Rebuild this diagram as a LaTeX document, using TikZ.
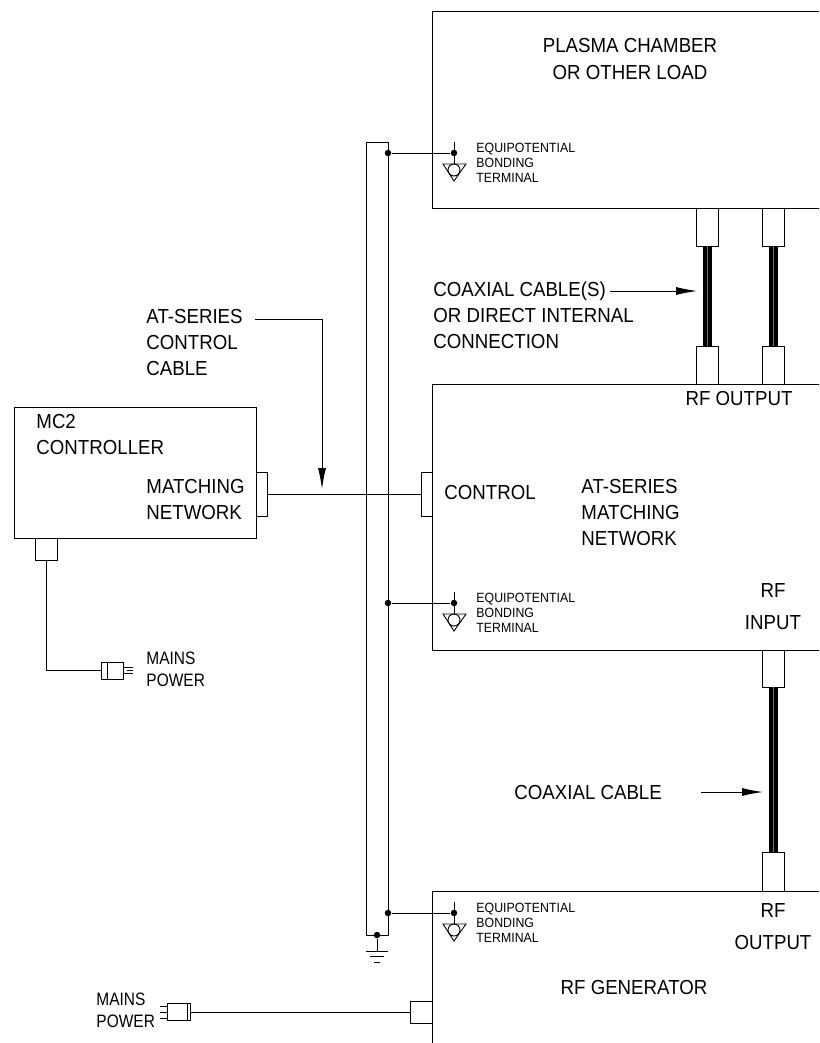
\documentclass[tikz,border=0pt]{standalone}
\usepackage{fontspec}
\setmainfont{Liberation Sans}
\newfontfamily\condfont[FakeStretch=0.92]{Liberation Sans}
\newfontfamily\mainsfont[FakeStretch=0.86]{Liberation Sans}
\usetikzlibrary{arrows.meta,positioning}
\tikzstyle{box} = [rectangle, draw, anchor=north west, inner sep=0pt, outer sep=0pt]
\tikzstyle{port} = [rectangle, draw, inner sep=0pt, outer sep=0pt, minimum width=22pt, minimum height=38pt]
\tikzstyle{sideport} = [rectangle, draw, inner sep=0pt, outer sep=0pt, minimum width=11pt, minimum height=44pt]
\tikzstyle{smallport} = [rectangle, draw, inner sep=0pt, outer sep=0pt, minimum width=22pt, minimum height=22pt]
\tikzstyle{plug} = [rectangle, draw, inner sep=0pt, outer sep=0pt, minimum width=22pt, minimum height=17pt]
\tikzstyle{label} = [inner sep=0pt, align=left, font=\condfont\fontsize{20.3}{26}\selectfont]
\tikzstyle{small} = [inner sep=0pt, align=left, anchor=west, font=\condfont\fontsize{13.4}{15.3}\selectfont]
\tikzstyle{mains} = [inner sep=0pt, align=left, anchor=west, font=\mainsfont\fontsize{18}{22}\selectfont]
\tikzstyle{line} = [draw, line width=0.9pt]
\tikzstyle{prong} = [draw, line width=1.6pt]
\tikzstyle{cable} = [draw, line width=4.45pt, double=black!55, double distance=0.1pt]
\tikzstyle{pointer} = [draw, line width=0.9pt, -{Latex[length=21pt,width=8pt]}]
\tikzstyle{dot} = [circle, fill=black, inner sep=0pt, minimum size=6.5pt]
\tikzset{bondsym/.pic={
    \draw[line width=0.9pt] (0,-11) -- (0,11);
    \draw[line width=0.9pt] (-11,11) -- (12,11) -- (0,28) -- cycle;
    \draw[line width=0.9pt] (0,17) circle (6pt);
  }}
\begin{document}
\begin{tikzpicture}[x=1pt, y=-1pt, line width=0.9pt]
      \useasboundingbox (0,0) rectangle (819,1043);
      \clip (0,0) rectangle (819,1043);
      % Equipment boxes
      \node [box, minimum width=420pt, minimum height=197pt] (chamber) at (432,11) {};
      \node [box, minimum width=420pt, minimum height=266pt] (match) at (432,384) {};
      \node [box, minimum width=420pt, minimum height=200pt] (gen) at (432,891) {};
      \node [box, minimum width=242pt, minimum height=131pt] (mc) at (14,407) {};
      % Bonding bus
      \node [box, minimum width=22pt, minimum height=793pt] (bus) at (366,142) {};
      % Connector shells
      \node [port, anchor=north] (cha) at (707,208) {};
      \node [port, anchor=north] (chb) at (773,208) {};
      \node [port, anchor=south] (maa) at (707,384) {};
      \node [port, anchor=south] (mab) at (773,384) {};
      \node [port, anchor=north, minimum height=37pt] (mrf) at (773,650) {};
      \node [port, anchor=south, minimum height=39pt] (grf) at (773,891) {};
      \node [sideport, anchor=west] (mcside) at (256,494.5) {};
      \node [sideport, anchor=east] (maside) at (432,494.5) {};
      \node [smallport, anchor=north] (mcpow) at (46,538) {};
      \node [smallport, anchor=east] (genpow) at (432,1012) {};
      \node [plug] (plugm) at (112,670.5) {};
      \node [plug, minimum width=23pt] (plugg) at (178.5,1012) {};
      % Bonding terminals
      \node [dot] (busa) at (388,153) {};
      \node [dot] (busb) at (388,603) {};
      \node [dot] (busc) at (388,913) {};
      \node [dot] (busg) at (377,935) {};
      \node [dot] (terma) at (454,153) {};
      \node [dot] (termb) at (454,603) {};
      \node [dot] (termc) at (454,913) {};
      \pic at (terma) {bondsym};
      \pic at (termb) {bondsym};
      \pic at (termc) {bondsym};
      \coordinate (earth) at (377,951);
      \coordinate (ctlfrom) at (255,319);
      \coordinate (ctltip) at (322,489);
      \coordinate (cxafrom) at (610,291);
      \coordinate (cxatip) at (697,291);
      \coordinate (cxbfrom) at (701,792);
      \coordinate (cxbtip) at (763,792);
      % Texts
      \node [label, align=center, font=\condfont\fontsize{20.3}{27.5}\selectfont] (tchamber) at (630,59) {PLASMA CHAMBER\\OR OTHER LOAD};
      \node [small] (lbla) at (476,163) {EQUIPOTENTIAL\\BONDING\\TERMINAL};
      \node [small] (lblb) at (476,613) {EQUIPOTENTIAL\\BONDING\\TERMINAL};
      \node [small] (lblc) at (476,923) {EQUIPOTENTIAL\\BONDING\\TERMINAL};
      \node [label, anchor=west] (tcoaxa) at (433,315) {COAXIAL CABLE(S)\\OR DIRECT INTERNAL\\CONNECTION};
      \node [label, anchor=west] (tctl) at (146,343) {AT-SERIES\\CONTROL\\CABLE};
      \node [label, anchor=west] (tmc) at (36,434.5) {MC2\\CONTROLLER};
      \node [label, anchor=west] (tmatch) at (146,500) {MATCHING\\NETWORK};
      \node [label, anchor=west] (tcontrol) at (444,493) {CONTROL};
      \node [label, anchor=west] (tat) at (581,513) {AT-SERIES\\MATCHING\\NETWORK};
      \node [label] (trfo) at (739,399) {RF OUTPUT};
      \node [label] (trf) at (773,591) {RF};
      \node [label] (tinput) at (773,623) {INPUT};
      \node [label, anchor=west] (tcoaxb) at (514,793) {COAXIAL CABLE};
      \node [label] (trfg) at (773,911) {RF};
      \node [label] (toutput) at (773,942) {OUTPUT};
      \node [label] (tgen) at (634,987) {RF GENERATOR};
      \node [mains] (mainsa) at (146,669) {MAINS\\POWER};
      \node [mains] (mainsb) at (96,1010.5) {MAINS\\POWER};
      % Draw edges
      \path [line] (busa) -- (terma);
      \path [line] (busb) -- (termb);
      \path [line] (busc) -- (termc);
      \path [line] (busg) -- (earth);
      \path [line] (366,951) -- (388,951);
      \path [line] (370,956.5) -- (384,956.5);
      \path [line] (374,962) -- (380,962);
      \path [cable] (cha) -- (maa);
      \path [cable] (chb) -- (mab);
      \path [cable] (mrf) -- (grf);
      \path [line] (mcside) -- (maside);
      \path [line] (mcpow) |- (plugm);
      \path [line] (plugg) -- (genpow);
      \path [pointer] (ctlfrom) -| (ctltip);
      \path [pointer] (cxafrom) -- (cxatip);
      \path [pointer] (cxbfrom) -- (cxbtip);
      % Plug details
      \path [line] (107,662) -- (107,679);
      \path [prong] (123,667.5) -- (133,667.5);
      \path [prong] (123,673.5) -- (133,673.5);
      \path [line] (127,670.5) -- (133,670.5);
      \path [line] (187,1003.5) -- (187,1020.5);
      \path [line] (160,1006) -- (167,1006);
      \path [line] (160,1012) -- (167,1012);
      \path [line] (160,1018) -- (167,1018);
  \end{tikzpicture}
\end{document}
